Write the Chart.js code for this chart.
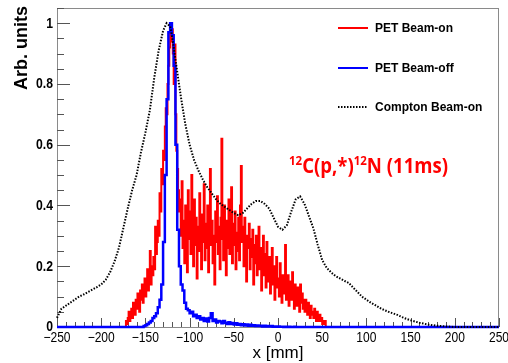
<!DOCTYPE html>
<html>
<head>
<meta charset="utf-8">
<script src="https://cdn.jsdelivr.net/npm/chart.js"></script>
<style>
  body { margin: 0; background: #fff; }
  #wrap { width: 508px; height: 363px; position: relative; }
</style>
</head>
<body>
<div id="wrap"><canvas id="myChart"></canvas></div>
<script>
// PET histograms, both start at -180 mm (beam-on: 1 mm bins, beam-off: 2 mm bins)
var binStart = -180
var onBinWidth = 1
var offBinWidth = 2

var petBeamOn = [
  0, 0, 0, 0, 0, 0, 0, 0, 0.02, 0.01,
  0.03, 0.05, 0.02, 0.04, 0.06, 0.03, 0.08, 0.05, 0.04, 0.09,
  0.06, 0.11, 0.07, 0.05, 0.12, 0.09, 0.14, 0.08, 0.11, 0.16,
  0.10, 0.13, 0.19, 0.12, 0.16, 0.25, 0.14, 0.20, 0.17, 0.23,
  0.19, 0.33, 0.24, 0.28, 0.35, 0.30, 0.44, 0.38, 0.52, 0.47,
  0.58, 0.55, 0.66, 0.72, 0.70, 0.80, 0.86, 0.92, 0.97, 0.94,
  0.98, 0.90, 0.80, 0.93, 0.70, 0.58, 0.52, 0.45, 0.38, 0.42,
  0.30, 0.48, 0.26, 0.35, 0.21, 0.40, 0.33, 0.18, 0.45, 0.29,
  0.38, 0.24, 0.50, 0.31, 0.20, 0.42, 0.27, 0.36, 0.16, 0.33,
  0.25, 0.44, 0.30, 0.19, 0.37, 0.28, 0.47, 0.22, 0.34, 0.26,
  0.40, 0.18, 0.33, 0.52, 0.27, 0.35, 0.21, 0.30, 0.14, 0.38,
  0.28, 0.43, 0.24, 0.33, 0.19, 0.36, 0.62, 0.29, 0.22, 0.40,
  0.31, 0.17, 0.35, 0.26, 0.42, 0.24, 0.30, 0.46, 0.21, 0.34,
  0.27, 0.38, 0.19, 0.31, 0.25, 0.36, 0.22, 0.40, 0.53, 0.28,
  0.33, 0.20, 0.36, 0.24, 0.15, 0.30, 0.26, 0.34, 0.19, 0.29,
  0.23, 0.32, 0.14, 0.27, 0.21, 0.30, 0.17, 0.25, 0.33, 0.19,
  0.26, 0.12, 0.22, 0.30, 0.17, 0.24, 0.13, 0.28, 0.20, 0.15,
  0.23, 0.11, 0.19, 0.26, 0.14, 0.20, 0.09, 0.18, 0.23, 0.13,
  0.16, 0.10, 0.21, 0.13, 0.08, 0.17, 0.11, 0.15, 0.27, 0.09,
  0.13, 0.17, 0.07, 0.12, 0.15, 0.09, 0.18, 0.11, 0.06, 0.14,
  0.10, 0.07, 0.13, 0.09, 0.05, 0.14, 0.08, 0.11, 0.06, 0.09,
  0.05, 0.09, 0.07, 0.04, 0.08, 0.06, 0.03, 0.07, 0.05, 0.04,
  0.03, 0.06, 0.04, 0.02, 0.05, 0.03, 0.02, 0.04, 0.02, 0.03,
  0.01, 0.02, 0.01, 0.02, 0, 0, 0, 0, 0, 0
]

var petBeamOff = [
  0, 0, 0, 0, 0, 0, 0, 0, 0, 0,
  0, 0, 0, 0, 0.003, 0.006, 0.01, 0.015, 0.02, 0.03,
  0.035, 0.045, 0.065, 0.09, 0.14, 0.28, 0.50, 0.75, 0.97, 1.0,
  0.96, 0.86, 0.60, 0.32, 0.20, 0.14, 0.12, 0.08, 0.06, 0.055,
  0.045, 0.05, 0.035, 0.04, 0.03, 0.035, 0.025, 0.03, 0.02, 0.028,
  0.018, 0.03, 0.045, 0.02, 0.025, 0.015, 0.02, 0.018, 0.012, 0.02,
  0.014, 0.01, 0.016, 0.01, 0.013, 0.008, 0.012, 0.007, 0.01, 0.006,
  0.009, 0.005, 0.008, 0.004, 0.007, 0.004, 0.006, 0.003, 0.005, 0.003,
  0.004, 0.002, 0.004, 0.002, 0.003, 0.002, 0.003, 0.001, 0.002, 0.001,
  0.002, 0.001, 0.001, 0, 0.001, 0, 0.001, 0, 0, 0.001,
  0, 0, 0, 0, 0, 0, 0, 0, 0, 0,
  0, 0, 0, 0, 0, 0, 0, 0, 0, 0
]

var comptonX = [-250, -245, -240, -235, -230, -225, -220, -215, -210, -205,
  -200, -195, -190, -185, -180, -175, -170, -165, -160, -155,
  -150, -145, -140, -135, -130, -126, -122, -120, -115, -110,
  -105, -100, -95, -90, -85, -80, -75, -70, -65, -60,
  -55, -50, -45, -40, -35, -30, -25, -20, -15, -10,
  -5, 0, 5, 10, 15, 20, 25, 30, 35, 40,
  45, 50, 55, 60, 65, 70, 75, 80, 85, 90,
  95, 100, 105, 110, 115, 120, 125, 130, 135, 140,
  145, 150, 155, 160, 165, 170, 175, 180, 185, 190,
  195, 200, 250]
var comptonY = [0.03, 0.06, 0.07, 0.08, 0.09, 0.10, 0.107, 0.115, 0.123, 0.131,
  0.14, 0.155, 0.18, 0.215, 0.26, 0.325, 0.39, 0.45, 0.50, 0.575,
  0.64, 0.713, 0.82, 0.91, 0.975, 1.0, 0.99, 0.96, 0.86, 0.76,
  0.67, 0.60, 0.55, 0.515, 0.485, 0.46, 0.44, 0.42, 0.405, 0.395,
  0.385, 0.375, 0.368, 0.375, 0.39, 0.405, 0.415, 0.415, 0.405, 0.39,
  0.36, 0.33, 0.32, 0.335, 0.38, 0.42, 0.43, 0.405, 0.365, 0.325,
  0.27, 0.22, 0.195, 0.18, 0.168, 0.16, 0.152, 0.145, 0.13, 0.115,
  0.10, 0.09, 0.08, 0.072, 0.063, 0.056, 0.05, 0.045, 0.04, 0.033,
  0.027, 0.022, 0.018, 0.014, 0.011, 0.008, 0.006, 0.004, 0.003, 0.002,
  0.001, 0, 0]

var xTickValues = [-250, -200, -150, -100, -50, 0, 50, 100, 150, 200, 250]
var xTickLabels = ['\u2212250', '\u2212200', '\u2212150', '\u2212100', '\u221250', '0', '50', '100', '150', '200', '250']
var yTickValues = [0, 0.2, 0.4, 0.6, 0.8, 1]
var yTickLabels = ['0', '0.2', '0.4', '0.6', '0.8', '1']

var seriesNames = ['PET Beam-on', 'PET Beam-off', 'Compton Beam-on']
var seriesColors = ['#ff0000', '#0000ff', '#000000']

var FONT = '"Liberation Sans", Arial, sans-serif'

function histPoints(values, width) {
  var pts = [{x: -250, y: 0}]
  for (var i = 0; i < values.length; i++) {
    pts.push({x: binStart + width * (i + 0.5), y: values[i]})
  }
  pts.push({x: 250, y: 0})
  return pts
}

function linePoints(xs, ys) {
  return xs.map(function(x, i) { return {x: x, y: ys[i]} })
}

// squeezed text (the original tick labels are a bit narrow)
function squeezeText(c, txt, x, y, sx) {
  c.save()
  c.translate(x, y)
  c.scale(sx, 1)
  c.fillText(txt, 0, 0)
  c.restore()
}

var frameAndText = {
  id: 'frameAndText',
  beforeDatasetsDraw: function(chart) {
    var c = chart.ctx, a = chart.chartArea
    var xs = chart.scales.x, ys = chart.scales.y
    c.save()
    c.strokeStyle = '#8a8a8a'
    c.lineWidth = 1
    c.strokeRect(a.left + 0.5, a.top + 0.5, a.right - a.left - 1, a.bottom - a.top)

    c.strokeStyle = '#555'
    c.beginPath()
    // x ticks, major every 50, minor every 10
    for (var v = xs.min; v <= xs.max; v += 10) {
      var px = Math.round(xs.getPixelForValue(v)) + 0.5
      var len = (v % 50 === 0) ? 9 : 5
      c.moveTo(px, a.bottom)
      c.lineTo(px, a.bottom - len)
    }
    // y ticks, major every 0.2, minor every 0.05
    for (var k = 0; k <= 21; k++) {
      var py = Math.round(ys.getPixelForValue(k * 0.05)) + 0.5
      var l2 = (k % 4 === 0) ? 13 : 7
      c.moveTo(a.left, py)
      c.lineTo(a.left + l2, py)
    }
    c.stroke()
    c.restore()
  },
  afterDraw: function(chart) {
    var c = chart.ctx, a = chart.chartArea
    var xs = chart.scales.x, ys = chart.scales.y
    c.save()
    c.fillStyle = '#000'

    // y tick labels
    c.font = 'bold 14px ' + FONT
    c.textAlign = 'right'
    c.textBaseline = 'middle'
    yTickValues.forEach(function(v, i) {
      squeezeText(c, yTickLabels[i], 53, ys.getPixelForValue(v) + 0.5, 0.87)
    })

    // x tick labels
    c.font = '14px ' + FONT
    c.textAlign = 'center'
    c.textBaseline = 'alphabetic'
    xTickValues.forEach(function(v, i) {
      squeezeText(c, xTickLabels[i], xs.getPixelForValue(v), 342, 0.86)
    })

    // axis titles
    c.font = '17px ' + FONT
    c.fillText('x [mm]', (a.left + a.right) / 2, 358)

    c.save()
    c.translate(27, a.top - 2)
    c.rotate(-Math.PI / 2)
    c.font = 'bold 18px ' + FONT
    c.textAlign = 'right'
    c.fillText('Arb. units', 0, 0)
    c.restore()

    // legend
    var legY = [28, 68, 107]
    c.font = 'bold 12px ' + FONT
    c.textAlign = 'left'
    c.textBaseline = 'middle'
    for (var i = 0; i < 3; i++) {
      c.beginPath()
      c.strokeStyle = seriesColors[i]
      c.lineWidth = 2
      c.setLineDash(i === 2 ? [1.5, 1.5] : [])
      c.moveTo(338, legY[i])
      c.lineTo(368, legY[i])
      c.stroke()
      c.setLineDash([])
      c.fillText(seriesNames[i], 375, legY[i] + 0.5)
    }

    // reaction label in red with superscripts
    var parts = [['12', true], ['C(p,*)', false], ['12', true], ['N (11ms)', false]]
    var big = 'bold 21px "Open Sans", ' + FONT
    var small = 'bold 13px "Open Sans", ' + FONT
    var total = 0
    parts.forEach(function(p) {
      c.font = p[1] ? small : big
      total += c.measureText(p[0]).width
    })
    var sx = 159 / total
    c.save()
    c.translate(289, 173)
    c.scale(sx, 1)
    c.fillStyle = '#ff0000'
    c.textBaseline = 'alphabetic'
    var cx = 0
    parts.forEach(function(p) {
      c.font = p[1] ? small : big
      c.fillText(p[0], cx, p[1] ? -8 : 0)
      cx += c.measureText(p[0]).width
    })
    c.restore()

    c.restore()
  }
}

var ctx = document.getElementById('myChart')

var myChart = new Chart(ctx, {
  type: 'line',
  data: {
    datasets: [{
      label: seriesNames[2],
      data: linePoints(comptonX, comptonY),
      borderColor: seriesColors[2],
      borderWidth: 2,
      borderDash: [1.5, 1.5],
      order: 0
    }, {
      label: seriesNames[1],
      data: histPoints(petBeamOff, offBinWidth),
      borderColor: seriesColors[1],
      borderWidth: 2.5,
      stepped: 'middle',
      order: 1
    }, {
      label: seriesNames[0],
      data: histPoints(petBeamOn, onBinWidth),
      borderColor: seriesColors[0],
      borderWidth: 2,
      stepped: 'middle',
      order: 2
    }]
  },
  options: {
    responsive: true,
    maintainAspectRatio: false,
    animation: false,
    clip: false,
    layout: { padding: { left: 57, top: 8, right: 9, bottom: 36 } },
    plugins: { legend: { display: false }, tooltip: { enabled: false } },
    elements: { point: { radius: 0 }, line: { tension: 0, fill: false } },
    scales: {
      x: { type: 'linear', min: -250, max: 250, display: false },
      y: { type: 'linear', min: 0, max: 1.05, display: false }
    }
  },
  plugins: [frameAndText]
})
</script>
</body>
</html>
